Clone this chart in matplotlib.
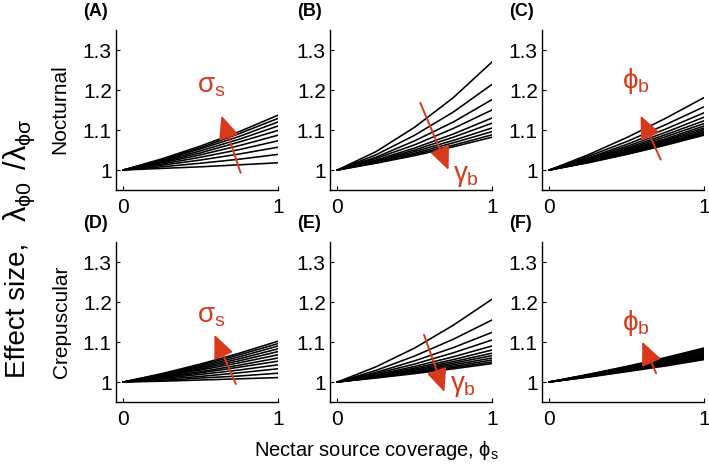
import matplotlib
matplotlib.use("Agg")
import matplotlib.pyplot as plt

plt.rcParams["font.family"] = ["Liberation Sans", "DejaVu Sans"]
plt.rcParams["mathtext.fontset"] = "custom"
plt.rcParams["mathtext.rm"] = "Liberation Sans"
plt.rcParams["mathtext.it"] = "Liberation Sans"

RED = "#d8391c"

phi_s = [0.0, 0.25, 0.5, 0.75, 1.0]

# effect size at phi_s = 0.25, 0.5, 0.75, 1 (all curves start at 1)
nocturnal_sigma = [
    [1.028, 1.060, 1.096, 1.137],
    [1.026, 1.056, 1.091, 1.129],
    [1.024, 1.053, 1.084, 1.120],
    [1.022, 1.048, 1.077, 1.110],
    [1.020, 1.043, 1.070, 1.099],
    [1.018, 1.038, 1.061, 1.087],
    [1.015, 1.032, 1.051, 1.073],
    [1.012, 1.025, 1.040, 1.057],
    [1.008, 1.017, 1.027, 1.039],
    [1.004, 1.008, 1.013, 1.018],
]
nocturnal_gamma = [
    [1.046, 1.107, 1.181, 1.270],
    [1.038, 1.087, 1.145, 1.214],
    [1.032, 1.073, 1.120, 1.176],
    [1.029, 1.063, 1.104, 1.150],
    [1.025, 1.055, 1.090, 1.130],
    [1.023, 1.050, 1.082, 1.117],
    [1.021, 1.046, 1.074, 1.105],
    [1.020, 1.042, 1.068, 1.096],
    [1.018, 1.039, 1.062, 1.088],
    [1.017, 1.036, 1.058, 1.082],
]
nocturnal_phib = [
    [1.038, 1.081, 1.129, 1.181],
    [1.034, 1.071, 1.113, 1.158],
    [1.030, 1.064, 1.102, 1.143],
    [1.028, 1.059, 1.094, 1.132],
    [1.026, 1.055, 1.088, 1.123],
    [1.025, 1.052, 1.083, 1.116],
    [1.023, 1.050, 1.078, 1.110],
    [1.022, 1.047, 1.075, 1.105],
    [1.021, 1.045, 1.072, 1.101],
    [1.021, 1.044, 1.069, 1.097],
    [1.020, 1.042, 1.067, 1.094],
    [1.019, 1.041, 1.065, 1.091],
    [1.019, 1.040, 1.063, 1.089],
    [1.018, 1.039, 1.062, 1.087],
]
crepuscular_sigma = [
    [1.021, 1.045, 1.072, 1.102],
    [1.020, 1.042, 1.068, 1.096],
    [1.018, 1.039, 1.063, 1.090],
    [1.017, 1.036, 1.058, 1.083],
    [1.015, 1.033, 1.053, 1.076],
    [1.014, 1.030, 1.048, 1.068],
    [1.012, 1.026, 1.042, 1.060],
    [1.011, 1.023, 1.037, 1.052],
    [1.009, 1.019, 1.030, 1.043],
    [1.007, 1.014, 1.023, 1.033],
    [1.004, 1.010, 1.015, 1.022],
    [1.002, 1.005, 1.008, 1.011],
]
crepuscular_gamma = [
    [1.038, 1.085, 1.142, 1.207],
    [1.029, 1.065, 1.107, 1.155],
    [1.024, 1.053, 1.086, 1.124],
    [1.021, 1.045, 1.073, 1.105],
    [1.018, 1.039, 1.063, 1.090],
    [1.016, 1.035, 1.056, 1.080],
    [1.015, 1.032, 1.051, 1.072],
    [1.014, 1.029, 1.047, 1.066],
    [1.013, 1.027, 1.043, 1.060],
    [1.012, 1.025, 1.039, 1.055],
    [1.011, 1.023, 1.036, 1.050],
    [1.010, 1.021, 1.033, 1.046],
]
crepuscular_phib = [
    [1.019, 1.039, 1.061, 1.085],
    [1.018, 1.038, 1.059, 1.082],
    [1.018, 1.037, 1.057, 1.079],
    [1.017, 1.036, 1.056, 1.077],
    [1.016, 1.034, 1.053, 1.074],
    [1.016, 1.033, 1.052, 1.072],
    [1.016, 1.032, 1.051, 1.070],
    [1.015, 1.031, 1.049, 1.068],
    [1.015, 1.031, 1.048, 1.066],
    [1.014, 1.030, 1.046, 1.064],
    [1.014, 1.029, 1.045, 1.062],
    [1.013, 1.028, 1.043, 1.060],
    [1.013, 1.027, 1.042, 1.058],
    [1.012, 1.026, 1.040, 1.056],
]

panel_letters = ["(A)", "(B)", "(C)", "(D)", "(E)", "(F)"]
panel_curves = [nocturnal_sigma, nocturnal_gamma, nocturnal_phib,
                crepuscular_sigma, crepuscular_gamma, crepuscular_phib]
row_names = ["Nocturnal", "Crepuscular"]

# red arrows: (tail, head, label, label position) in data units
arrows = [
    ((0.758, 0.993), (0.634, 1.136), r"$\sigma_s$", (0.57, 1.21)),
    ((0.536, 1.168), (0.719, 1.000), r"$\gamma_b$", (0.83, 0.985)),
    ((0.720, 1.026), (0.590, 1.136), r"$\phi_b$", (0.56, 1.222)),
    ((0.727, 0.995), (0.589, 1.118), r"$\sigma_s$", (0.57, 1.165)),
    ((0.560, 1.118), (0.692, 0.975), r"$\gamma_b$", (0.815, 0.99)),
    ((0.690, 1.022), (0.600, 1.101), r"$\phi_b$", (0.556, 1.148)),
]

fig = plt.figure(figsize=(7.09, 4.68), dpi=100)
lefts = [116 / 709, 330 / 709, 542 / 709]
bottoms = [1 - 190 / 468, 1 - 402 / 468]
w = 162 / 709
h = 160 / 468

axes = []
for i in range(6):
    r, c = divmod(i, 3)
    ax = fig.add_axes([lefts[c], bottoms[r], w, h])
    axes.append(ax)
    for curve in panel_curves[i]:
        ax.plot(phi_s, [1.0] + curve, color="black", lw=1.15, solid_joinstyle="round")
    ax.set_xlim(-0.048, 1.0)
    ax.set_ylim(0.95, 1.35)
    ax.set_xticks([0, 1])
    ax.set_xticklabels(["0", "1"])
    ax.set_yticks([1, 1.1, 1.2, 1.3])
    ax.set_yticklabels(["1", "1.1", "1.2", "1.3"])
    ax.spines["top"].set_visible(False)
    ax.spines["right"].set_visible(False)
    ax.spines["left"].set_linewidth(1.0)
    ax.spines["bottom"].set_linewidth(1.0)
    ax.tick_params(direction="in", length=3, width=0.8, labelsize=15)
    ax.tick_params(axis="x", pad=6)
    ax.tick_params(axis="y", pad=3)
    ax.text(-0.205, 1.065, panel_letters[i], transform=ax.transAxes,
            fontsize=13, fontweight="bold", va="bottom", ha="left")

    tail, head, label, lpos = arrows[i]
    ax.annotate("", xy=head, xytext=tail,
                arrowprops=dict(arrowstyle="-|>,head_length=0.75,head_width=0.33",
                                color=RED, lw=1.4, mutation_scale=19,
                                shrinkA=0, shrinkB=0))
    ax.text(lpos[0], lpos[1], label, color=RED, fontsize=20,
            ha="center", va="center")

fig.text(60 / 709, 1 - 109 / 468, row_names[0], rotation=90,
         fontsize=15, ha="center", va="center")
fig.text(62 / 709, 1 - 322 / 468, row_names[1], rotation=90,
         fontsize=15, ha="center", va="center")

# shared y label, drawn in two pieces so the lambdas can be larger
fig.text(24 / 709, 1 - 310 / 468, "Effect size,",
         rotation=90, rotation_mode="anchor", fontsize=20,
         ha="center", va="baseline")
fig.text(26 / 709, 1 - 170 / 468,
         r"$\lambda_{\phi0}\,$ /$\lambda_{\phi\sigma}$",
         rotation=90, rotation_mode="anchor", fontsize=22,
         ha="center", va="baseline")
fig.text(376 / 709, 1 - 450 / 468,
         r"Nectar source coverage, $\phi_s$",
         fontsize=14.5, ha="center", va="center")

fig.savefig("out.png", dpi=100)
